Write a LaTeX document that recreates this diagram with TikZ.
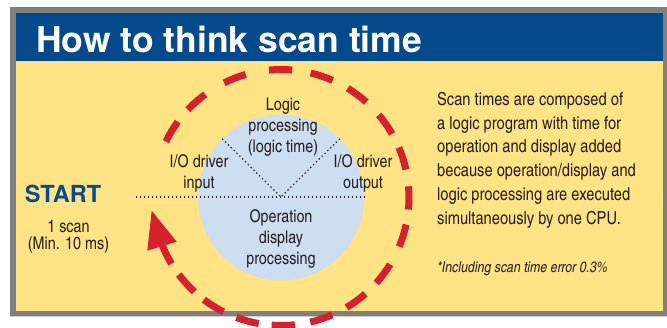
\documentclass[tikz,border=0pt]{standalone}
\usepackage{fontspec}
\setmainfont{TeX Gyre Heros Cn}
\newfontfamily\heros{TeX Gyre Heros}
\usetikzlibrary{calc}
\definecolor{framegray}{RGB}{128,128,128}
\definecolor{shadowgray}{RGB}{205,205,205}
\definecolor{hdrblue}{RGB}{3,74,140}
\definecolor{bgyellow}{RGB}{255,227,133}
\definecolor{cblue}{RGB}{204,222,240}
\definecolor{redd}{RGB}{212,33,45}
\definecolor{txt}{RGB}{35,31,32}
\definecolor{startblue}{RGB}{8,74,143}
\begin{document}
\begin{tikzpicture}[x=1pt,y=1pt,
  lbl/.style={font=\fontsize{17.5}{21}\selectfont, text=txt, align=center, inner sep=0pt},
  reddash/.style={draw=redd, line width=7pt},
  dotline/.style={draw=txt, line width=1.2pt, dash pattern=on 1.3pt off 2.7pt}]
\useasboundingbox (0,0) rectangle (667,328);
\begin{scope}
\clip (0,0) rectangle (667,328);
% frame
\fill[shadowgray] (10,10.5) rectangle (667,12.5);
\fill[framegray] (10,12) rectangle (667,320.7);
\fill[bgyellow] (16,17.3) rectangle (663,314.7);
\fill[hdrblue] (16,267) rectangle (663,314.7);
\node[anchor=base west, inner sep=0pt, text=white, font=\heros\bfseries\fontsize{35.5}{40}\selectfont] (title) at (36,275.3) {How to think scan time};
% centre circle
\coordinate (c) at (281,130.5);
\fill[cblue] (c) circle (83);
\coordinate (dl) at (136,131);
\coordinate (dr) at (365,131);
\coordinate (cm) at (281,131);
\coordinate (ul) at ($(c)+(135:83)$);
\coordinate (ur) at ($(c)+(45:83)$);
\draw[dotline] (dl) -- (dr);
\draw[dotline] (ul) -- (cm) -- (ur);
% red dashed cycle
\foreach \a in {148.9,131.5,111.2,90.2,71.4,53.4,35,17.8,-0.2,-17.4,-36.7,-54,-71.6,-89,-105.2,-121.9,-137.8}
  \draw[reddash] ($(c)+(\a+5.2:128)$) arc[start angle=\a+5.2, end angle=\a-5.2, radius=128];
\draw[reddash] ($(c)+(-148.8:128)$) arc[start angle=-148.8, end angle=-158.5, radius=128];
\coordinate (tip) at (151.7,117.3);
\coordinate (bl) at (147.3,77.3);
\coordinate (br) at (176.7,86.3);
\fill[redd] (tip) -- (bl) -- (br) -- cycle;
% texts
\node[lbl] (logic) at (283,200.5) {Logic\\processing\\(logic time)};
\node[lbl] (ioin) at (199,155) {I/O driver\\input};
\node[lbl] (ioout) at (363,155) {I/O driver\\output};
\node[lbl] (opd) at (281,89.5) {Operation\\display\\processing};
\node[anchor=base, inner sep=0pt, text=startblue, font=\heros\bfseries\fontsize{23.5}{25}\selectfont] (start) at (63,125) {START};
\node[lbl, font=\fontsize{17.5}{16.6}\selectfont] (scan) at (68.5,91.5) {1 scan\\(Min. 10 ms)};
\node[anchor=north west, inner sep=0pt, text=txt, align=left, font=\fontsize{17.9}{23.8}\selectfont] (para) at (437,236)
  {Scan times are composed of\\a logic program with time for\\operation and display added\\because operation/display and\\logic processing are executed\\simultaneously by one CPU.};
\node[anchor=base west, inner sep=0pt, text=txt, font=\itshape\fontsize{15}{18}\selectfont] (note) at (437,55.3) {*Including scan time error 0.3\%};
\end{scope}
\end{tikzpicture}
\end{document}
